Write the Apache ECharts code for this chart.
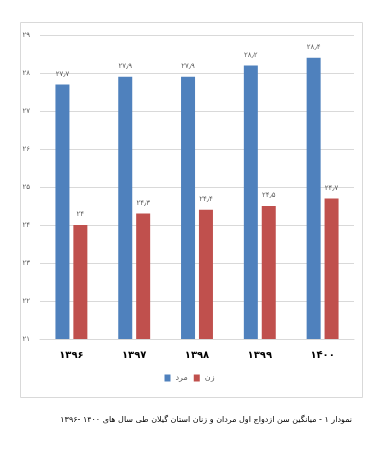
<!DOCTYPE html>
<html><head><meta charset="utf-8">
<script src="https://cdn.jsdelivr.net/npm/echarts@6/dist/echarts.min.js"></script>
<style>html,body{margin:0;padding:0;background:#fff}#c{width:379px;height:461px}</style>
</head><body><div id="c"></div>
<script>
const categories = ['1396','1397','1398','1399','1400'];
const menValues = [27.7, 27.9, 27.9, 28.2, 28.4];
const womenValues = [24.0, 24.3, 24.4, 24.5, 24.7];
const seriesNames = ['مرد', 'زن'];
const caption = 'نمودار ۱ - میانگین سن ازدواج اول مردان و زنان استان گیلان طی سال های ۱۴۰۰ -۱۳۹۶';

function fa(v){
  return String(v).replace('.', '٫').replace(/[0-9]/g, d => '۰۱۲۳۴۵۶۷۸۹'[+d]);
}
const chart = echarts.init(document.getElementById('c'));
const lbl = {show:true, position:'top', distance:7, color:'#595959', fontSize:7, fontFamily:'DejaVu Sans', formatter:p=>fa(p.value)};
chart.setOption({
  animation:false,
  backgroundColor:'#fff',
  grid:{left:40, right:25, top:35, bottom:122},
  legend:{bottom:74, left:'center', icon:'rect', itemWidth:6, itemHeight:7, itemGap:6, textStyle:{fontSize:8, color:'#595959', fontFamily:'DejaVu Sans'}, data:seriesNames},
  xAxis:{type:'category', data:categories, axisTick:{show:false},
    axisLine:{lineStyle:{color:'#d9d9d9'}},
    axisLabel:{margin:11, fontSize:10, fontWeight:'bold', color:'#000', fontFamily:'DejaVu Sans', formatter:v=>fa(v)}},
  yAxis:{type:'value', min:21, max:29, interval:1,
    axisLine:{show:false}, axisTick:{show:false},
    splitLine:{lineStyle:{color:'#d9d9d9'}},
    axisLabel:{margin:10, fontSize:7, color:'#595959', fontFamily:'DejaVu Sans', formatter:v=>fa(v)}},
  series:[
    {name:seriesNames[0], type:'bar', data:menValues, barWidth:14, barGap:'28%', itemStyle:{color:'#4f81bd'}, label:lbl},
    {name:seriesNames[1], type:'bar', data:womenValues, barWidth:14, itemStyle:{color:'#c0504d'}, label:lbl}
  ],
  graphic:[
    {type:'rect', z:-1, shape:{x:20.5, y:22.5, width:342, height:375}, style:{fill:'none', stroke:'#d9d9d9', lineWidth:1}},
    {type:'text', right:27, top:416, style:{text:caption, fontSize:8, fill:'#000', fontFamily:'DejaVu Sans'}}
  ]
});
</script></body></html>
